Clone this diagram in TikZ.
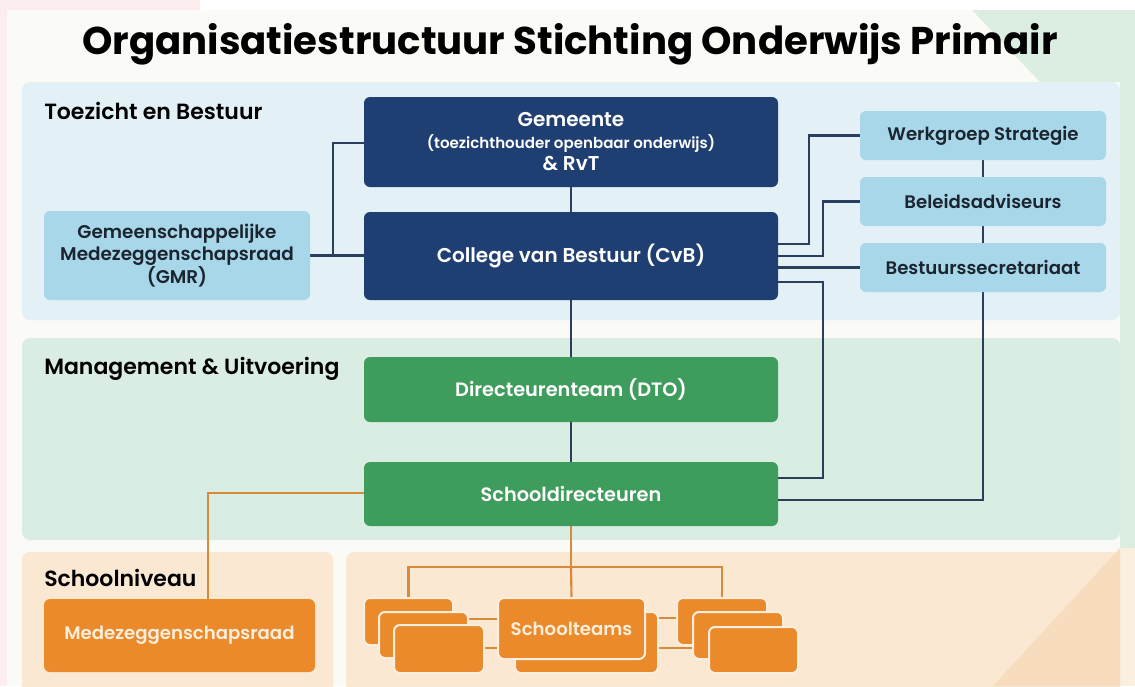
\documentclass[tikz,border=0pt]{standalone}
\usepackage{fontspec}
\setmainfont{Poppins}[BoldFont={Poppins SemiBold}]
\newfontfamily\titlefont{Poppins}
\definecolor{bgcard}{HTML}{FAFAF6}
\definecolor{pinkbg}{HTML}{FCEDEE}
\definecolor{greenbg}{HTML}{DCEEE1}
\definecolor{panelblue}{HTML}{E3F0F5}
\definecolor{panelgreen}{HTML}{DAEDE2}
\definecolor{panelorange}{HTML}{FAE8D3}
\definecolor{orangetri}{HTML}{F7DCBD}
\definecolor{navy}{HTML}{1F3F73}
\definecolor{lightblue}{HTML}{A8D7EA}
\definecolor{boxgreen}{HTML}{3E9D5C}
\definecolor{boxorange}{HTML}{EB8A2B}
\definecolor{navyline}{HTML}{2A3E5E}
\definecolor{orangeline}{HTML}{D9893A}
\definecolor{darktext}{HTML}{1B2530}
\definecolor{creamtext}{HTML}{FCEEDC}
\pgfdeclarelayer{bg}
\pgfdeclarelayer{panels}
\pgfdeclarelayer{lines}
\pgfsetlayers{bg,panels,lines,main}
\tikzset{
  sz/.style 2 args={minimum width=#1*0.75pt, minimum height=#2*0.75pt, inner sep=0pt},
  darkbox/.style={fill=navy, rounded corners=4.5pt, text=white, align=center, font=\bfseries\fontsize{15pt}{18pt}\selectfont},
  lbbox/.style={fill=lightblue, rounded corners=4.5pt, text=darktext, align=center, font=\bfseries\fontsize{13.6pt}{16pt}\selectfont},
  grbox/.style={fill=boxgreen, rounded corners=4.5pt, text=white, align=center, font=\bfseries\fontsize{14.5pt}{17pt}\selectfont},
  orbox/.style={fill=boxorange, rounded corners=4.5pt, text=creamtext, align=center, font=\bfseries\fontsize{13.6pt}{16pt}\selectfont},
  stackbox/.style={fill=boxorange, draw=creamtext, line width=1.5pt, rounded corners=4.5pt},
  panel/.style={rounded corners=6pt},
  seclabel/.style={anchor=west, inner sep=0pt, text=black, font=\bfseries\fontsize{16.5pt}{19pt}\selectfont},
  navyconn/.style={draw=navyline, line width=1.6pt},
  orconn/.style={draw=orangeline, line width=1.6pt}
}
\begin{document}
\begin{tikzpicture}[x=0.75pt,y=-0.75pt]
\useasboundingbox (0,0) rectangle (1135,686);
\begin{pgfonlayer}{bg}
\fill[white] (0,0) rectangle (1135,686);
\fill[pinkbg] (0,0) -- (200,0) -- (200,10) -- (7,10) -- (7,686) -- (0,686) -- cycle;
\fill[bgcard] (7,10) rectangle (1135,686);
\fill[greenbg] (972,10) -- (1135,10) -- (1135,548) -- (1120,548) -- (1120,82) -- (1040,82) -- cycle;
\fill[panelorange!70!white] (1120,548) rectangle (1135,686);
\end{pgfonlayer}

% title
\node[inner sep=0pt, font=\titlefont\bfseries\fontsize{29pt}{33pt}\selectfont] (title) at (570,44) {Organisatiestructuur Stichting Onderwijs Primair};

% panels
\begin{pgfonlayer}{panels}
\fill[panelblue, panel] (22,82) rectangle (1120,320);
\fill[panelgreen, panel] (22,338) rectangle (1120,540);
\fill[panelorange, panel] (22,552) rectangle (333,700);
\fill[panelorange, panel] (346,552) rectangle (1120,700);
\fill[orangetri] (1120,548) -- (1120,686) -- (993,686) -- cycle;
\end{pgfonlayer}

% section labels
\node[seclabel] (lab1) at (44,111) {Toezicht en Bestuur};
\node[seclabel] (lab2) at (44,369) {Management \& Uitvoering};
\node[seclabel] (lab3) at (44,578) {Schoolniveau};

% governance
\node[darkbox, sz={414}{90}, font=\bfseries\fontsize{15pt}{16.5pt}\selectfont] (gem) at (571,142) {Gemeente\\{\fontsize{11.3pt}{13pt}\selectfont (toezichthouder openbaar onderwijs)}\\\&~RvT};
\node[darkbox, sz={414}{88}] (cvb) at (571,256) {College van Bestuur (CvB)};
\node[lbbox, sz={266}{89}, font=\bfseries\fontsize{13.8pt}{17pt}\selectfont] (gmr) at (177,255.5) {Gemeenschappelijke\\Medezeggenschapsraad\\(GMR)};
\node[lbbox, sz={246}{49}] (wgs) at (983,135.5) {Werkgroep Strategie};
\node[lbbox, sz={246}{49}] (bel) at (983,201.5) {Beleidsadviseurs};
\node[lbbox, sz={246}{49}] (bes) at (983,267.5) {Bestuurssecretariaat};

% management
\node[grbox, sz={414}{65}] (dto) at (571,389.5) {Directeurenteam (DTO)};
\node[grbox, sz={414}{64}] (sd) at (571,494) {Schooldirecteuren};

% school level
\node[orbox, sz={271}{73}] (mr) at (179.5,635.5) {Medezeggenschapsraad};
\node[stackbox, sz={89}{47}] (l1) at (408.5,621.5) {};
\node[stackbox, sz={89}{46}] (l2) at (423.5,635) {};
\node[stackbox, sz={90}{48}] (l3) at (439,649) {};
\node[stackbox, sz={143}{61}] (st2) at (586.5,642.5) {};
\node[stackbox, sz={147}{61}, text=creamtext, font=\bfseries\fontsize{13.6pt}{16pt}\selectfont] (st) at (571.5,628.5) {Schoolteams};
\node[stackbox, sz={90}{47}] (r1) at (722,621.5) {};
\node[stackbox, sz={90}{47}] (r2) at (738,635.5) {};
\node[stackbox, sz={89}{46}] (r3) at (753.5,650) {};

% junction coordinates
\coordinate (jg) at (333,143);
\coordinate (jw) at (809,244);
\coordinate (jb) at (823,256);
\coordinate (jd) at (823,282);

\begin{pgfonlayer}{lines}
% navy connectors
\draw[navyconn] (gem.south) -- (cvb.north);
\draw[navyconn] (cvb.south) -- (dto.north);
\draw[navyconn] (dto.south) -- (sd.north);
\draw[navyconn] (gmr.east) -- (cvb.west |- gmr.east);
\draw[navyconn] (gmr.east -| jg) -- (jg) -- (gem.west |- jg);
\draw[navyconn] (cvb.east |- jw) -- (jw) |- (wgs.west);
\draw[navyconn] (cvb.east |- jb) -- (jb) |- (bel.west);
\draw[navyconn] (cvb.east |- bes.west) -- (bes.west);
\draw[navyconn] (cvb.east |- jd) -- (jd) |- (sd.east |- 0,478);
\draw[navyconn] (bes.south) |- (sd.east |- 0,500);
\draw[navyconn] (wgs.south) -- (bel.north);
\draw[navyconn] (bel.south) -- (bes.north);
% orange connectors
\draw[orconn] (sd.west |- 0,493) -| (mr.north -| 208,0);
\draw[orconn] (sd.south) -- (571,567) coordinate (jt);
\draw[orconn] (l1.north) |- (jt) -| (r1.north);
\draw[orconn] (jt) -- (st.north);
\draw[orconn] (l2.east |- 0,619) -- (st.west |- 0,619);
\draw[orconn] (l3.east |- 0,648) -- (st.west |- 0,648);
\draw[orconn] (st2.east |- 0,618) -- (r1.west |- 0,618);
\draw[orconn] (st2.east |- 0,648) -- (r2.west |- 0,648);
\end{pgfonlayer}
\end{tikzpicture}
\end{document}
